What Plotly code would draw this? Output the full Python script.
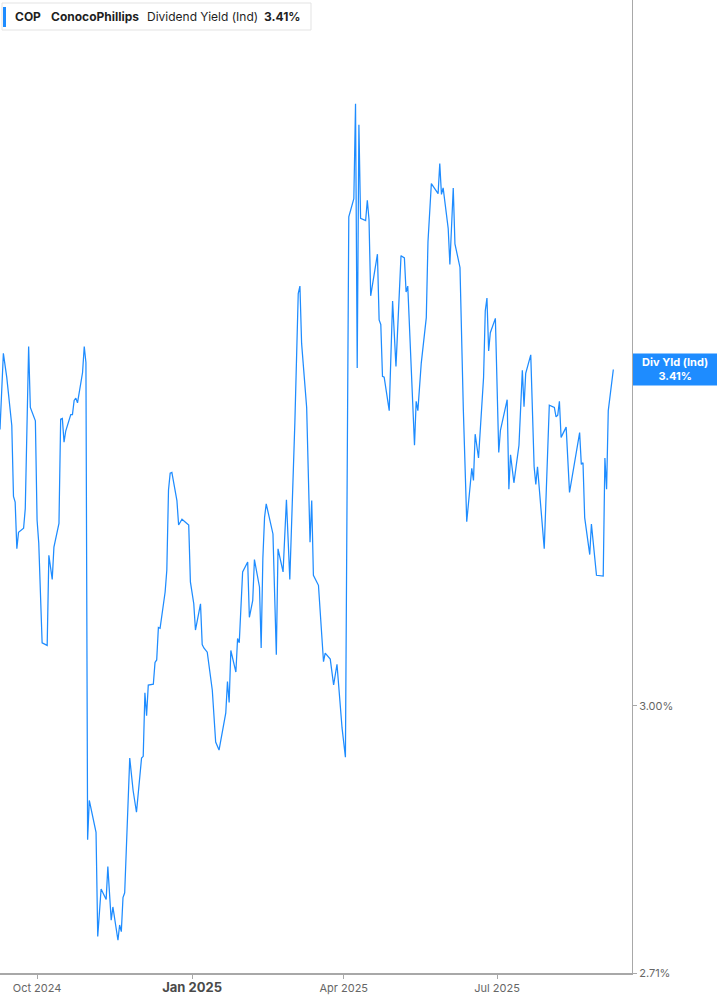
import math
import plotly.graph_objects as go

# ---- data ----
dates = [
    "2024-09-09", "2024-09-11", "2024-09-13", "2024-09-16", "2024-09-17", "2024-09-18", "2024-09-19", "2024-09-20",
    "2024-09-23", "2024-09-24", "2024-09-26", "2024-09-27", "2024-09-30", "2024-10-01", "2024-10-02", "2024-10-04",
    "2024-10-07", "2024-10-08", "2024-10-10", "2024-10-11", "2024-10-14", "2024-10-15", "2024-10-16", "2024-10-17",
    "2024-10-18", "2024-10-21", "2024-10-22", "2024-10-23", "2024-10-24", "2024-10-25", "2024-10-28", "2024-10-29",
    "2024-10-30", "2024-10-31", "2024-11-01", "2024-11-05", "2024-11-06", "2024-11-08", "2024-11-11", "2024-11-12",
    "2024-11-14", "2024-11-15", "2024-11-18", "2024-11-19", "2024-11-20", "2024-11-21", "2024-11-22", "2024-11-25",
    "2024-11-27", "2024-11-29", "2024-12-02", "2024-12-03", "2024-12-04", "2024-12-05", "2024-12-06", "2024-12-09",
    "2024-12-10", "2024-12-11", "2024-12-12", "2024-12-13", "2024-12-16", "2024-12-17", "2024-12-18", "2024-12-19",
    "2024-12-20", "2024-12-23", "2024-12-24", "2024-12-26", "2024-12-30", "2024-12-31", "2025-01-02", "2025-01-03",
    "2025-01-06", "2025-01-07", "2025-01-08", "2025-01-10", "2025-01-13", "2025-01-15", "2025-01-17", "2025-01-21",
    "2025-01-22", "2025-01-23", "2025-01-24", "2025-01-27", "2025-01-28", "2025-01-29", "2025-01-31", "2025-02-03",
    "2025-02-04", "2025-02-06", "2025-02-07", "2025-02-10", "2025-02-11", "2025-02-12", "2025-02-13", "2025-02-14",
    "2025-02-18", "2025-02-20", "2025-02-21", "2025-02-24", "2025-02-26", "2025-02-28", "2025-03-03", "2025-03-05",
    "2025-03-06", "2025-03-07", "2025-03-10", "2025-03-12", "2025-03-13", "2025-03-14", "2025-03-17", "2025-03-20",
    "2025-03-21", "2025-03-24", "2025-03-26", "2025-03-28", "2025-03-31", "2025-04-02", "2025-04-04", "2025-04-06",
    "2025-04-07", "2025-04-08", "2025-04-09", "2025-04-10", "2025-04-11", "2025-04-14", "2025-04-15", "2025-04-16",
    "2025-04-17", "2025-04-21", "2025-04-22", "2025-04-23", "2025-04-24", "2025-04-25", "2025-04-28", "2025-04-30",
    "2025-05-02", "2025-05-05", "2025-05-07", "2025-05-08", "2025-05-09", "2025-05-13", "2025-05-14", "2025-05-15",
    "2025-05-17", "2025-05-20", "2025-05-21", "2025-05-23", "2025-05-27", "2025-05-28", "2025-05-29", "2025-05-30",
    "2025-06-02", "2025-06-03", "2025-06-05", "2025-06-06", "2025-06-09", "2025-06-11", "2025-06-13", "2025-06-16",
    "2025-06-17", "2025-06-18", "2025-06-20", "2025-06-23", "2025-06-24", "2025-06-25", "2025-06-26", "2025-06-27",
    "2025-06-30", "2025-07-02", "2025-07-03", "2025-07-07", "2025-07-08", "2025-07-09", "2025-07-11", "2025-07-14",
    "2025-07-16", "2025-07-17", "2025-07-18", "2025-07-21", "2025-07-22", "2025-07-23", "2025-07-24", "2025-07-25",
    "2025-07-29", "2025-08-01", "2025-08-04", "2025-08-05", "2025-08-06", "2025-08-07", "2025-08-08", "2025-08-11",
    "2025-08-13", "2025-08-19", "2025-08-20", "2025-08-21", "2025-08-22", "2025-08-25", "2025-08-26", "2025-08-29",
    "2025-09-02", "2025-09-03", "2025-09-04", "2025-09-05", "2025-09-08",
]

div_yield = [
    3.333, 3.431, 3.400, 3.338, 3.249, 3.242, 3.185, 3.205,
    3.210, 3.234, 3.440, 3.361, 3.344, 3.220, 3.192, 3.073,
    3.070, 3.177, 3.148, 3.187, 3.216, 3.346, 3.347, 3.317,
    3.331, 3.352, 3.352, 3.370, 3.373, 3.367, 3.406, 3.440,
    3.419, 2.851, 2.894, 2.859, 2.748, 2.798, 2.787, 2.822,
    2.765, 2.779, 2.744, 2.760, 2.753, 2.789, 2.794, 2.941,
    2.905, 2.881, 2.941, 2.943, 3.015, 2.989, 3.024, 3.025,
    3.050, 3.053, 3.091, 3.090, 3.133, 3.159, 3.257, 3.278,
    3.279, 3.244, 3.214, 3.221, 3.214, 3.145, 3.119, 3.088,
    3.119, 3.071, 3.067, 3.062, 3.018, 2.959, 2.950, 2.992,
    3.028, 3.004, 3.064, 3.039, 3.078, 3.073, 3.157, 3.169,
    3.103, 3.123, 3.172, 3.139, 3.067, 3.173, 3.223, 3.240,
    3.203, 3.059, 3.185, 3.157, 3.245, 3.148, 3.342, 3.510,
    3.520, 3.444, 3.361, 3.193, 3.244, 3.153, 3.141, 3.051,
    3.061, 3.054, 3.024, 3.048, 2.975, 2.942, 3.614, 3.631,
    3.639, 3.773, 3.412, 3.743, 3.612, 3.609, 3.637, 3.610,
    3.507, 3.563, 3.475, 3.469, 3.401, 3.400, 3.357, 3.500,
    3.414, 3.561, 3.558, 3.512, 3.520, 3.313, 3.369, 3.357,
    3.418, 3.478, 3.580, 3.660, 3.646, 3.688, 3.645, 3.654,
    3.598, 3.549, 3.654, 3.577, 3.545, 3.357, 3.218, 3.284,
    3.269, 3.327, 3.297, 3.400, 3.487, 3.504, 3.434, 3.458,
    3.477, 3.304, 3.332, 3.371, 3.258, 3.301, 3.266, 3.313,
    3.409, 3.362, 3.405, 3.429, 3.357, 3.286, 3.264, 3.286,
    3.185, 3.364, 3.361, 3.349, 3.351, 3.369, 3.323, 3.336,
    3.254, 3.329, 3.289, 3.291, 3.223, 3.178, 3.215, 3.153,
    3.152, 3.297, 3.258, 3.357, 3.410,
]

x_tick_vals = ["2024-10-01", "2025-01-01", "2025-04-01", "2025-07-01"]
x_tick_text = ["Oct 2024", "<b><span style='font-size:13px;color:#4a4a4a'>Jan 2025</span></b>",
               "Apr 2025", "Jul 2025"]
y_tick_vals = [2.71, 3.00]
y_tick_text = ["2.71%", "3.00%"]

ticker = "COP"
company = "ConocoPhillips"
metric = "Dividend Yield (Ind)"
badge_label = "Div Yld (Ind)"

x_range = ["2024-09-09", "2025-09-19 02:00"]
y_min, y_max = 2.71, 3.925

# ---- styling ----
BLUE = "#1e8cff"
W, H = 717, 1005
ML, MR, MT, MB = 0, 85, 0, 32
PW, PH = W - ML - MR, H - MT - MB
FONT = "Inter, 'Noto Sans', sans-serif"


def px_x(p):
    return p / PW


def px_y(p):
    return 1 - p / PH


last = div_yield[-1]
last_txt = f"{last:.2f}%"
lo, hi = math.log10(y_min), math.log10(y_max)
last_paper = (math.log10(last) - lo) / (hi - lo)

fig = go.Figure()
fig.add_trace(go.Scatter(
    x=dates, y=div_yield, mode="lines",
    line=dict(color=BLUE, width=1.25),
    hoverinfo="skip", showlegend=False,
))

fig.update_layout(
    width=W, height=H,
    margin=dict(l=ML, r=MR, t=MT, b=MB, pad=0),
    paper_bgcolor="white", plot_bgcolor="white",
    font=dict(family=FONT, size=11, color="#666"),
    showlegend=False,
    xaxis=dict(
        type="date", range=x_range,
        showgrid=False, zeroline=False,
        showline=True, linecolor="#a8a8a8", linewidth=1.5,
        ticks="outside", ticklen=4, tickcolor="#a8a8a8", tickwidth=1,
        tickvals=x_tick_vals, ticktext=x_tick_text,
        tickfont=dict(family=FONT, size=11, color="#666"),
    ),
    yaxis=dict(
        type="log", side="right",
        range=[lo, hi],
        showgrid=False, zeroline=False,
        showline=True, linecolor="#a8a8a8", linewidth=1,
        ticks="outside", ticklen=4, tickcolor="#a8a8a8",
        tickvals=y_tick_vals, ticktext=y_tick_text,
        tickfont=dict(family=FONT, size=11, color="#666"),
    ),
)

shapes = []
# legend box
shapes.append(dict(type="rect", xref="paper", yref="paper",
                   x0=px_x(2), x1=px_x(311), y0=px_y(3), y1=px_y(30),
                   line=dict(color="#e3e3e3", width=1), fillcolor="white", layer="above"))
shapes.append(dict(type="rect", xref="paper", yref="paper",
                   x0=px_x(3), x1=px_x(6), y0=px_y(7), y1=px_y(27),
                   line=dict(width=0), fillcolor=BLUE, layer="above"))
# last-value badge
shapes.append(dict(type="rect", xref="paper", yref="paper",
                   x0=px_x(633), x1=px_x(W),
                   y0=last_paper - 16 / PH, y1=last_paper + 16 / PH,
                   line=dict(width=0), fillcolor=BLUE, layer="above"))
fig.update_layout(shapes=shapes)

legend_parts = [
    (13, f"<b>{ticker}</b>"),
    (49, f"<b>{company}</b>"),
    (145, metric),
    (262, f"<b>{last_txt}</b>"),
]
for xp, txt in legend_parts:
    fig.add_annotation(xref="paper", yref="paper", x=px_x(xp), y=px_y(16.5),
                       xanchor="left", yanchor="middle", showarrow=False,
                       text=txt, font=dict(family=FONT, size=12, color="#1f1f1f"))

fig.add_annotation(xref="paper", yref="paper", x=px_x(675), y=last_paper,
                   xanchor="center", yanchor="middle", showarrow=False,
                   text=f"<b>{badge_label}<br>{last_txt}</b>",
                   font=dict(family=FONT, size=11, color="white"))

fig.write_html(
    "out.html",
    config={"displayModeBar": False},
    post_script="document.body.style.margin='0';document.body.style.padding='0';"
                "window.dispatchEvent(new Event('resize'));",
)
